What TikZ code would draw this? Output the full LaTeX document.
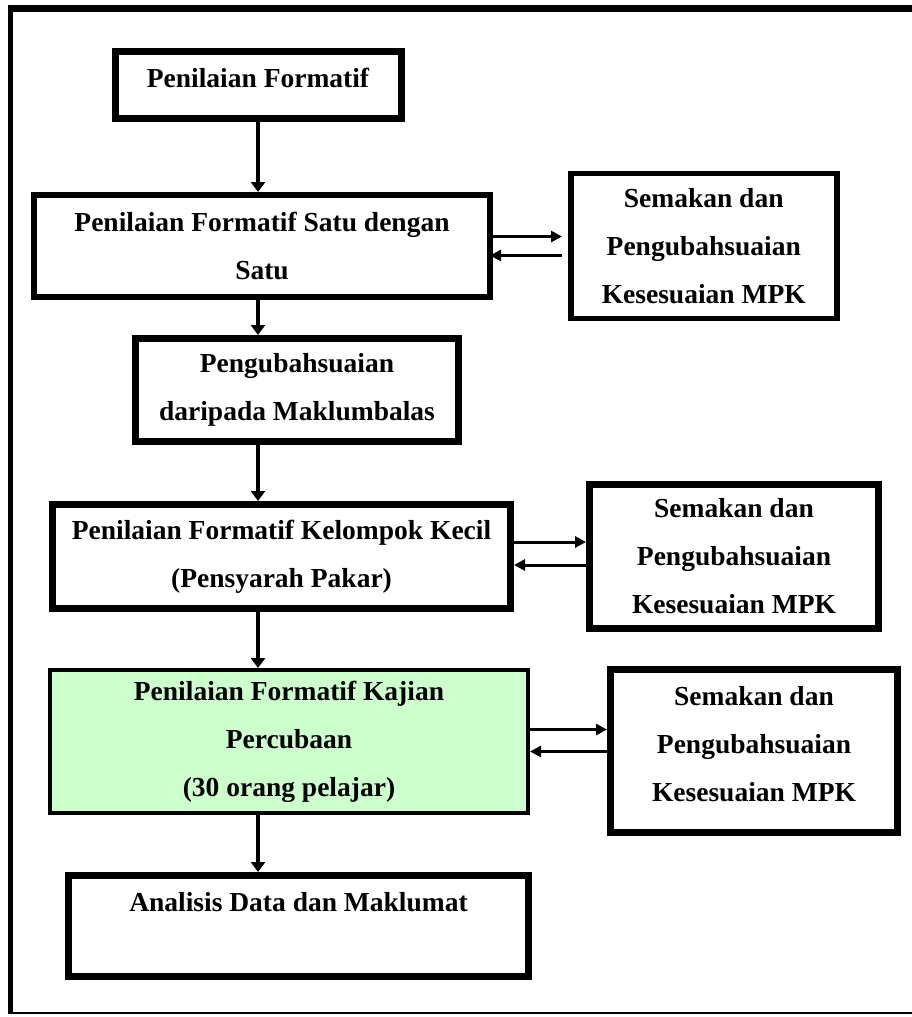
\documentclass[tikz,border=0pt]{standalone}
\usepackage{fontspec}
\setmainfont{Liberation Serif}
\usetikzlibrary{arrows.meta,positioning}
\definecolor{trialgreen}{RGB}{204,255,204}
\tikzset{
    %Define standard arrow tip
    >={Triangle[length=11pt,width=11pt]},
    %Define style for boxes
    stage/.style={
           rectangle,
           draw=black, line width=7pt,
           inner sep=2pt,
           align=center,
           font=\fontsize{27.5}{48}\selectfont\bfseries,
           text centered},
    review/.style={
           stage,
           minimum width=289pt,
           minimum height=144pt},
    % Define arrow style
    flow/.style={
           ->,
           line width=3pt},
    down/.style={
           ->,
           >={Triangle[length=10pt,width=14pt]},
           line width=4pt}
}

\begin{document}
\begin{tikzpicture}[x=1pt,y=-1pt]
\useasboundingbox (0,0) rectangle (912,1017);
 %frame
\draw[line width=7pt] (8,8.5) -- (912,8.5);
\draw[line width=5pt] (10.5,5) -- (10.5,1014);
\draw[line width=2pt] (8,1013) -- (912,1013);
 %main column
\node[stage, minimum width=286pt, minimum height=67pt, text depth=13pt] (formatif) at (258,84.5) {Penilaian Formatif};
\node[stage, line width=6pt, minimum width=456pt, minimum height=102pt] (satu) at (262,246) {Penilaian Formatif Satu dengan\\Satu};
\node[stage, minimum width=323pt, minimum height=103pt] (ubah) at (297,390) {Pengubahsuaian\\daripada Maklumbalas};
\node[stage, minimum width=458pt, minimum height=104pt] (kelompok) at (281.5,556.5) {Penilaian Formatif Kelompok Kecil\\(Pensyarah Pakar)};
\node[stage, line width=4pt, fill=trialgreen, minimum width=478pt, minimum height=143pt] (kajian) at (289,741.5) {Penilaian Formatif Kajian\\Percubaan\\(30 orang pelajar)};
\node[stage, minimum width=460pt, minimum height=101pt] (analisis) at (298.5,926) {Analisis Data dan Maklumat\\\mbox{}};
 %review boxes
\node[review, line width=5.5pt, minimum width=266pt, minimum height=145pt, right=75pt of satu] (semakA) {Semakan dan\\Pengubahsuaian\\Kesesuaian MPK};
\node[review, right=72pt of kelompok] (semakB) {Semakan dan\\Pengubahsuaian\\Kesesuaian MPK};
\node[review, minimum width=287pt, minimum height=163pt, text depth=14pt, right=77pt of kajian, yshift=-9.5pt] (semakC) {Semakan dan\\Pengubahsuaian\\Kesesuaian MPK};
 %flow down
\draw[down] (formatif.south) -- (formatif.south |- satu.north);
\draw[down] (satu.south -| formatif.south) -- (ubah.north -| formatif.south);
\draw[down] (ubah.south -| formatif.south) -- (kelompok.north -| formatif.south);
\draw[down] (kelompok.south -| formatif.south) -- (kajian.north -| formatif.south);
\draw[down] (kajian.south -| formatif.south) -- (analisis.north -| formatif.south);
 %feedback loops
\draw[flow, shorten <=-6pt, shorten >=6pt] ([yshift=9.5pt]satu.east) -- ([yshift=9.5pt]satu.east -| semakA.west);
\draw[flow, shorten <=6pt, shorten >=-3pt] ([yshift=-9.5pt]satu.east -| semakA.west) -- ([yshift=-9.5pt]satu.east);
\draw[flow] ([yshift=14.5pt]kelompok.east) -- ([yshift=14.5pt]kelompok.east -| semakB.west);
\draw[flow] ([yshift=-8.5pt]kelompok.east -| semakB.west) -- ([yshift=-8.5pt]kelompok.east);
\draw[flow] ([yshift=12pt]kajian.east) -- ([yshift=12pt]kajian.east -| semakC.west);
\draw[flow] ([yshift=-10pt]kajian.east -| semakC.west) -- ([yshift=-10pt]kajian.east);
\end{tikzpicture}
\end{document}
